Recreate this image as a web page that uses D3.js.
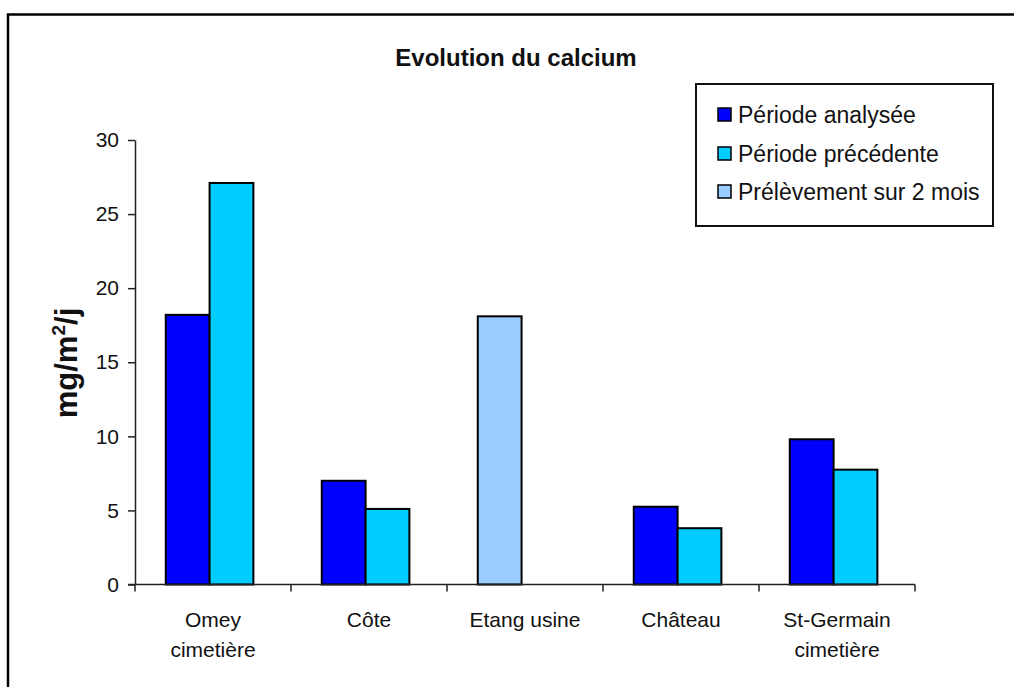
<!DOCTYPE html>
<html>
<head>
<meta charset="utf-8">
<script src="https://cdn.jsdelivr.net/npm/d3@7"></script>
<style>
  html, body { margin: 0; padding: 0; background: #fff; }
  svg { display: block; }
  text { font-family: "Liberation Sans", Arial, sans-serif; fill: #111; }
</style>
</head>
<body>
<svg id="chart" width="1014" height="687"></svg>
<script>
const title = "Evolution du calcium";
const categories = [["Omey", "cimetière"], ["Côte"], ["Etang usine"], ["Château"], ["St-Germain", "cimetière"]];
const seriesNames = ["Période analysée", "Période précédente", "Prélèvement sur 2 mois"];
const seriesColors = ["#0000FF", "#00CCFF", "#99CCFF"];
const seriesSlot = [0, 1, 0];
const periodeAnalysee = [18.2, 7.0, null, 5.25, 9.8];
const periodePrecedente = [27.1, 5.1, null, 3.8, 7.75];
const prelevement2Mois = [null, null, 18.1, null, null];
const yTicks = [0, 5, 10, 15, 20, 25, 30];
const yLabel = "mg/m²/j";

(function () {
const series = [periodeAnalysee, periodePrecedente, prelevement2Mois];
const svg = d3.select("#chart");

// outer frame
svg.append("path")
  .attr("d", "M8,687 L8,14.5 L1014,14.5")
  .attr("fill", "none").attr("stroke", "#000").attr("stroke-width", 2.5);

const pL = 135, pR = 915, pT = 140, pB = 584.5;
const catKeys = categories.map(c => c.join(" "));
const x = d3.scaleBand().domain(catKeys).range([pL, pR]).paddingInner(0).paddingOuter(0);
const x1 = d3.scaleBand().domain([0, 1]).range([0, x.bandwidth()]).paddingInner(0).paddingOuter(0.78).align(0.45);
const y = d3.scaleLinear().domain([0, 30]).range([pB, pT]);

// title
svg.append("text").attr("x", 516).attr("y", 66).attr("text-anchor", "middle")
  .style("font-size", "24px").style("font-weight", "bold").text(title);

// bars
series.forEach((vals, si) => {
  svg.append("g").selectAll("rect")
    .data(vals.map((v, i) => ({ v, c: catKeys[i] })).filter(d => d.v != null))
    .join("rect")
    .attr("x", d => x(d.c) + x1(seriesSlot[si]))
    .attr("y", d => y(d.v))
    .attr("width", x1.bandwidth())
    .attr("height", d => y(0) - y(d.v))
    .attr("fill", seriesColors[si])
    .attr("stroke", "#000").attr("stroke-width", 2);
});

// y axis
const yAxis = svg.append("g").attr("transform", `translate(${pL},0)`)
  .call(d3.axisLeft(y).tickValues(yTicks).tickSize(7).tickSizeOuter(0).tickPadding(9));
yAxis.select(".domain").attr("stroke", "#222").attr("stroke-width", 1.5);
yAxis.selectAll(".tick line").attr("stroke", "#222").attr("stroke-width", 1.5);
yAxis.selectAll(".tick text").style("font-size", "21px").attr("fill", "#111")
  .style("font-family", "'Liberation Sans', Arial, sans-serif");

// x axis baseline and boundary ticks
svg.append("line").attr("x1", pL - 7).attr("x2", pR).attr("y1", y(0)).attr("y2", y(0))
  .attr("stroke", "#222").attr("stroke-width", 1.5);
const bounds = [pL].concat(catKeys.map(c => x(c) + x.bandwidth()));
svg.append("g").selectAll("line").data(bounds).join("line")
  .attr("x1", d => d).attr("x2", d => d).attr("y1", y(0)).attr("y2", y(0) + 7)
  .attr("stroke", "#222").attr("stroke-width", 1.5);

// x labels
const xl = svg.append("g");
categories.forEach((c, i) => {
  const cx = x(catKeys[i]) + x.bandwidth() / 2;
  const t = xl.append("text").attr("x", cx).attr("y", 627)
    .attr("text-anchor", "middle").style("font-size", "21px");
  c.forEach((line, j) => t.append("tspan").attr("x", cx)
    .attr("dy", j === 0 ? 0 : 30).text(line));
});

// y label
const yl = svg.append("text").attr("transform", "translate(77,363) rotate(-90)")
  .attr("text-anchor", "middle").style("font-size", "31px").style("font-weight", "bold");
yl.append("tspan").text("mg/m");
yl.append("tspan").attr("dy", -12).style("font-size", "19px").text("2");
yl.append("tspan").attr("dy", 12).text("/j");

// legend
const lg = svg.append("g");
lg.append("rect").attr("x", 696).attr("y", 84).attr("width", 297).attr("height", 142)
  .attr("fill", "#fff").attr("stroke", "#111").attr("stroke-width", 2);
const rowY = [115, 154, 192];
seriesNames.forEach((n, i) => {
  lg.append("rect").attr("x", 718).attr("y", rowY[i] - 7).attr("width", 13).attr("height", 13)
    .attr("fill", seriesColors[i]).attr("stroke", "#000").attr("stroke-width", 1.5);
  lg.append("text").attr("x", 738).attr("y", rowY[i] + 8).style("font-size", "23px").text(n);
});
})();
</script>
</body>
</html>
